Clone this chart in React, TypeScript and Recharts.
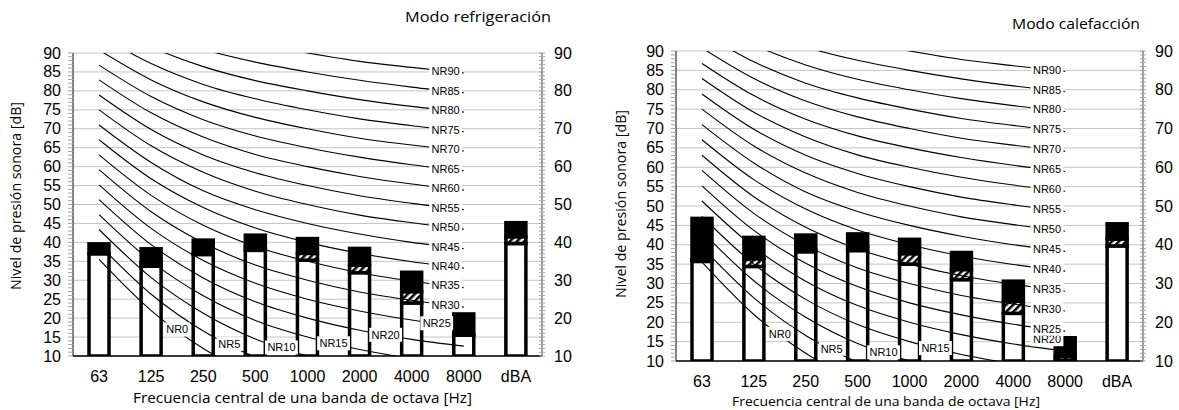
import React from 'react';
import { ComposedChart, Bar, Line, XAxis, YAxis, CartesianGrid } from 'recharts';

const categories = ['63', '125', '250', '500', '1000', '2000', '4000', '8000', 'dBA'];

// Modo refrigeración: tramo blanco, tramo rayado, tramo negro (dB)
const coolWhite = [37.0, 33.7, 36.8, 37.9, 35.3, 32.0, 24.0, 15.5, 39.7];
const coolHatch = [0.0, 0.9, 0.3, 0.9, 1.8, 2.0, 3.0, 0.0, 1.8];
const coolBlack = [2.6, 3.7, 3.5, 3.1, 3.9, 4.4, 5.1, 5.6, 3.7];

// Modo calefacción
const heatWhite = [35.7, 34.4, 38.2, 38.5, 35.0, 31.0, 22.3, 10.2, 39.7];
const heatHatch = [0.5, 2.0, 0.4, 0.9, 2.7, 2.6, 3.1, 1.0, 1.8];
const heatBlack = [10.6, 5.5, 3.9, 3.4, 3.7, 4.4, 5.2, 4.8, 3.9];

// curvas NR, 63 Hz ... 8000 Hz
const nrLevels = [0, 5, 10, 15, 20, 25, 30, 35, 40, 45, 50, 55, 60, 65, 70, 75, 80, 85, 90];
const nrValues = [
  [35.5, 22.0, 12.0, 4.8, 0.0, -3.5, -6.1, -8.0],
  [39.4, 26.3, 16.6, 9.7, 5.0, 1.6, -1.0, -2.8],
  [43.4, 30.7, 21.3, 14.5, 10.0, 6.6, 4.2, 2.3],
  [47.3, 35.0, 25.9, 19.4, 15.0, 11.7, 9.3, 7.4],
  [51.3, 39.4, 30.6, 24.3, 20.0, 16.8, 14.4, 12.6],
  [55.2, 43.7, 35.2, 29.2, 25.0, 21.9, 19.5, 17.7],
  [59.2, 48.1, 39.9, 34.0, 30.0, 26.9, 24.7, 22.9],
  [63.1, 52.4, 44.5, 38.9, 35.0, 32.0, 29.8, 28.0],
  [67.1, 56.8, 49.2, 43.8, 40.0, 37.1, 34.9, 33.2],
  [71.0, 61.1, 53.6, 48.6, 45.0, 42.2, 40.0, 38.3],
  [75.0, 65.5, 58.5, 53.5, 50.0, 47.2, 45.2, 43.5],
  [78.9, 69.8, 63.1, 58.4, 55.0, 52.3, 50.3, 48.6],
  [82.9, 74.2, 67.8, 63.2, 60.0, 57.4, 55.4, 53.8],
  [86.8, 78.5, 72.4, 68.1, 65.0, 62.5, 60.5, 58.9],
  [90.8, 82.9, 77.1, 73.0, 70.0, 67.5, 65.7, 64.1],
  [94.7, 87.2, 81.7, 77.9, 75.0, 72.6, 70.8, 69.2],
  [98.7, 91.6, 86.4, 82.7, 80.0, 77.7, 75.9, 74.4],
  [102.6, 95.9, 91.0, 87.6, 85.0, 82.8, 81.0, 79.5],
  [106.6, 100.3, 95.7, 92.5, 90.0, 87.8, 86.2, 84.7],
];

// tramo (entre banda i e i+1) y posición dentro del tramo para la etiqueta de cada curva
const coolLabelSeg = [1, 2, 3, 4, 5, 6, 6, 6, 6, 6, 6, 6, 6, 6, 6, 6, 6, 6, 6];
const heatLabelSeg = [1, 2, 3, 4, 6, 6, 6, 6, 6, 6, 6, 6, 6, 6, 6, 6, 6, 6, 6];
const coolLabelPos = [0.5, 0.5, 0.5, 0.5, 0.5, 0.48, 0.65, 0.65, 0.65, 0.65, 0.65, 0.65, 0.65, 0.65, 0.65, 0.65, 0.65, 0.65, 0.65];
const heatLabelPos = [0.5, 0.5, 0.5, 0.5, 0.65, 0.65, 0.65, 0.65, 0.65, 0.65, 0.65, 0.65, 0.65, 0.65, 0.65, 0.65, 0.65, 0.65, 0.65];
const coolLabelLift = [0, 0, 0, 0, 0, 0, 0, 0, 0, 0, 0, 0, 0, 0, 0, 0, 0, 0, 0];
const heatLabelLift = [0, 0, 0, 0, 2.4, 0, 0, 0, 0, 0, 0, 0, 0, 0, 0, 0, 0, 0, 0];

const gridValues = [10, 15, 20, 25, 30, 35, 40, 45, 50, 55, 60, 65, 70, 75, 80, 85, 90];
const minorTicks = Array.from({ length: 81 }, (_, i) => 10 + i);

const TICK_FONT = '"Liberation Sans", Arial, sans-serif';
const TITLE_FONT = '"Open Sans", "Noto Sans", sans-serif';
const H = 410;
const LW = 60;
const RW = 36;
const XH = 30;

const LeftTick = (p: any) => {
  const { x, y, payload } = p;
  const v = payload.value;
  return (
    <g>
      <line x1={x - 5} x2={x} y1={y} y2={y} stroke="#a6a6a6" strokeWidth={1} />
      {v % 5 === 0 && (
        <text x={x - 12} y={y} dy={5.5} textAnchor="end" fontSize={16} fontFamily={TICK_FONT} fill="#000">
          {v}
        </text>
      )}
    </g>
  );
};

const RightTick = (p: any) => {
  const { x, y, payload } = p;
  const v = payload.value;
  return (
    <g>
      <line x1={x - 3} x2={x + 3} y1={y} y2={y} stroke="#a6a6a6" strokeWidth={1} />
      {v % 10 === 0 && (
        <text x={x + 12} y={y} dy={5.5} textAnchor="start" fontSize={16} fontFamily={TICK_FONT} fill="#000">
          {v}
        </text>
      )}
    </g>
  );
};

const segShape = (fill: string, plotB: number) => (p: any) => {
  const { x, y, width, height } = p;
  if (height == null || height <= 0.01) return <g />;
  const y2 = Math.min(y + height, plotB);
  if (y2 <= y) return <g />;
  return <rect x={x} y={y} width={width} height={y2 - y} fill={fill} stroke="#000" strokeWidth={3.5} />;
};

const labelDot = (k: number, seg: number, pos: number, lift: number, band: number, ppu: number) => (p: any) => {
  const { cx, cy, index } = p;
  if (index !== seg || cx == null || cy == null) return <g key={`d${k}-${index}`} />;
  const v0 = nrValues[k][index];
  const v1 = nrValues[k][index + 1];
  const x = cx + band * pos;
  const y = cy + ((v0 - v1) * pos - lift) * ppu;
  const text = `NR${nrLevels[k]}`;
  const w = text.length * 7.2 + 4;
  return (
    <g key={`d${k}-${index}`}>
      <rect x={x - w / 2} y={y - 7} width={w} height={14} fill="#fff" />
      <text x={x} y={y} dy={4} textAnchor="middle" fontSize={11} fontFamily={TICK_FONT} fill="#000">
        {text}
      </text>
    </g>
  );
};

interface PanelProps {
  x0: number
  width: number
  plotL: number
  plotR: number
  plotT: number
  plotB: number
  white: number[]
  hatch: number[]
  black: number[]
  labelSeg: number[]
  labelPos: number[]
  labelLift: number[]
}

function Panel({ x0, width, plotL, plotR, plotT, plotB, white, hatch, black, labelSeg, labelPos, labelLift }: PanelProps) {
  const data = categories.map((cat, i) => {
    const row: any = { cat, white: white[i], hatch: hatch[i], black: black[i] };
    nrLevels.forEach((lvl, k) => {
      row[`nr${lvl}`] = i < 8 ? nrValues[k][i] : null;
    });
    return row;
  });
  const band = (plotR - plotL) / categories.length;
  const ppu = (plotB - plotT) / 80;
  const margin = {
    top: plotT,
    bottom: H - plotB - XH,
    left: plotL - x0 - LW,
    right: x0 + width - plotR - RW,
  };

  return (
    <div style={{ position: 'absolute', left: x0, top: 0 }}>
      <ComposedChart width={width} height={H} data={data} margin={margin} barCategoryGap={0}>
        <CartesianGrid vertical={false} horizontalValues={gridValues} stroke="#c4c4c4" strokeWidth={1} />
        <XAxis
          dataKey="cat"
          height={XH}
          tickLine={false}
          tickSize={6}
          tickMargin={9}
          axisLine={{ stroke: '#000', strokeWidth: 1.5 }}
          tick={{ fontSize: 16, fontFamily: TICK_FONT, fill: '#000' }}
        />
        <YAxis
          domain={[10, 90]}
          allowDataOverflow
          ticks={minorTicks}
          interval={0}
          width={LW}
          tickSize={0}
          tickMargin={0}
          tickLine={false}
          axisLine={{ stroke: '#000', strokeWidth: 1 }}
          tick={LeftTick}
        />
        <YAxis
          yAxisId="r"
          orientation="right"
          domain={[10, 90]}
          allowDataOverflow
          ticks={minorTicks}
          interval={0}
          width={RW}
          tickSize={0}
          tickMargin={0}
          tickLine={false}
          axisLine={{ stroke: '#404040', strokeWidth: 1 }}
          tick={RightTick}
        />
        {nrLevels.map((lvl) => (
          <Line
            key={`c${lvl}`}
            dataKey={`nr${lvl}`}
            type="monotone"
            stroke="#000"
            strokeWidth={1.1}
            dot={false}
            activeDot={false}
            isAnimationActive={false}
          />
        ))}
        <Bar dataKey="white" stackId="s" barSize={20} fill="#fff" shape={segShape('#fff', plotB)} isAnimationActive={false} />
        <Bar dataKey="hatch" stackId="s" barSize={20} fill="url(#hatch)" shape={segShape('url(#hatch)', plotB)} isAnimationActive={false} />
        <Bar dataKey="black" stackId="s" barSize={20} fill="#000" shape={segShape('#000', plotB)} isAnimationActive={false} />
        {/* etiquetas NR encima de las barras */}
        {nrLevels.map((lvl, k) => (
          <Line
            key={`l${lvl}`}
            dataKey={`nr${lvl}`}
            type="monotone"
            stroke="none"
            zIndex={2000}
            dot={labelDot(k, labelSeg[k], labelPos[k], labelLift[k], band, ppu)}
            activeDot={false}
            isAnimationActive={false}
          />
        ))}
      </ComposedChart>
    </div>
  );
}

const txt = { fontFamily: TITLE_FONT, fill: '#000' };

export default function App() {
  return (
    <div style={{ position: 'absolute', left: 0, top: 0, width: 1179, height: 410, background: '#fff', overflow: 'hidden' }}>
      <svg width={0} height={0} style={{ position: 'absolute' }}>
        <defs>
          <pattern id="hatch" patternUnits="userSpaceOnUse" width={5} height={5} patternTransform="rotate(45)">
            <rect x={0} y={0} width={5} height={5} fill="#fff" />
            <rect x={0} y={0} width={2.5} height={5} fill="#000" />
          </pattern>
        </defs>
      </svg>
      <Panel
        x0={0}
        width={595}
        plotL={73}
        plotR={542}
        plotT={53}
        plotB={356}
        white={coolWhite}
        hatch={coolHatch}
        black={coolBlack}
        labelSeg={coolLabelSeg}
        labelPos={coolLabelPos}
        labelLift={coolLabelLift}
      />
      <Panel
        x0={595}
        width={584}
        plotL={676}
        plotR={1143}
        plotT={51}
        plotB={361}
        white={heatWhite}
        hatch={heatHatch}
        black={heatBlack}
        labelSeg={heatLabelSeg}
        labelPos={heatLabelPos}
        labelLift={heatLabelLift}
      />
      <svg width={1179} height={410} style={{ position: 'absolute', left: 0, top: 0, pointerEvents: 'none' }}>
        <text x={405} y={22} fontSize={15} textLength={146} lengthAdjust="spacingAndGlyphs" {...txt}>
          Modo refrigeración
        </text>
        <text x={1012} y={29} fontSize={15} textLength={128} lengthAdjust="spacingAndGlyphs" {...txt}>
          Modo calefacción
        </text>
        <text x={133} y={403} fontSize={14} textLength={339} lengthAdjust="spacingAndGlyphs" {...txt}>
          Frecuencia central de una banda de octava [Hz]
        </text>
        <text x={732} y={406} fontSize={13.5} textLength={308} lengthAdjust="spacingAndGlyphs" {...txt}>
          Frecuencia central de una banda de octava [Hz]
        </text>
        <text x={0} y={0} fontSize={14} textLength={188} lengthAdjust="spacingAndGlyphs" transform="translate(21 290) rotate(-90)" {...txt}>
          Nivel de presión sonora [dB]
        </text>
        <text x={0} y={0} fontSize={14} textLength={188} lengthAdjust="spacingAndGlyphs" transform="translate(626 298) rotate(-90)" {...txt}>
          Nivel de presión sonora [dB]
        </text>
      </svg>
    </div>
  );
}
